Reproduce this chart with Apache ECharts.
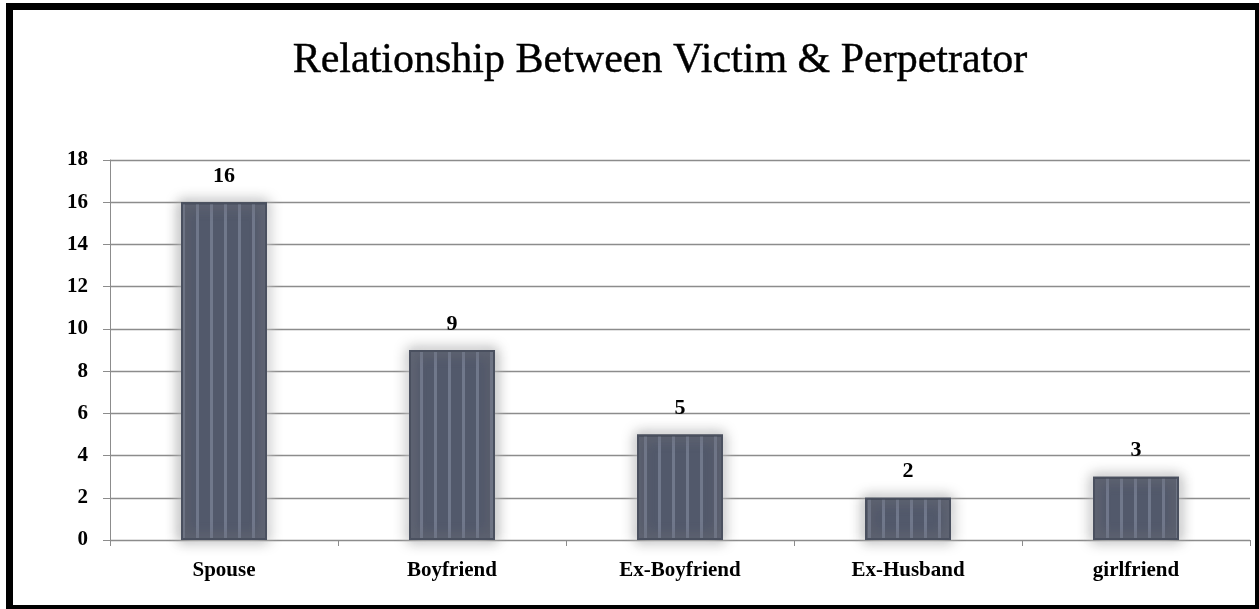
<!DOCTYPE html>
<html>
<head>
<meta charset="utf-8">
<title>Relationship Between Victim & Perpetrator</title>
<script src="https://cdn.jsdelivr.net/npm/echarts@6/dist/echarts.min.js"></script>
<style>
	html, body {
		margin: 0;
		padding: 0;
		background: #fff;
	}
	#chart-box {
		width: 1259px;
		height: 609px;
	}
</style>
</head>
<body>
<div id="chart-box"></div>
<script>
	var categories = ["Spouse", "Boyfriend", "Ex-Boyfriend", "Ex-Husband", "girlfriend"];
	var counts = [16, 9, 5, 2, 3];
	var yTicks = [0, 2, 4, 6, 8, 10, 12, 14, 16, 18];

	var serif = "'Liberation Serif', 'Times New Roman', serif";

	var chart = echarts.init(document.getElementById("chart-box"));

	var option = {
		animation: false,
		backgroundColor: "#fff",
		textStyle: {
			fontFamily: serif
		},
		title: {
			text: "Relationship Between Victim & Perpetrator",
			left: 655,
			textAlign: "center",
			top: 35,
			textStyle: {
				fontFamily: serif,
				fontSize: 42,
				fontWeight: "normal",
				color: "#000",
				textBorderColor: "#000",
				textBorderWidth: 0.4
			}
		},
		grid: {
			left: 110,
			right: 9,
			top: 160,
			bottom: 69
		},
		xAxis: {
			type: "category",
			data: categories,
			axisLine: {
				lineStyle: {
					color: "#8c8c8c",
					width: 1
				}
			},
			axisTick: {
				show: true,
				length: 6,
				lineStyle: {
					color: "#8c8c8c"
				}
			},
			axisLabel: {
				margin: 20,
				color: "#000",
				fontFamily: serif,
				fontSize: 21,
				fontWeight: "bold"
			}
		},
		yAxis: {
			type: "value",
			min: yTicks[0],
			max: yTicks[yTicks.length - 1],
			interval: yTicks[1] - yTicks[0],
			axisLine: {
				show: true,
				lineStyle: {
					color: "#8c8c8c",
					width: 1
				}
			},
			axisTick: {
				show: true,
				length: 7,
				lineStyle: {
					color: "#8c8c8c"
				}
			},
			splitLine: {
				lineStyle: {
					color: "#8c8c8c",
					width: 1.3
				}
			},
			axisLabel: {
				margin: 22,
				color: "#000",
				fontFamily: serif,
				fontSize: 21,
				fontWeight: "bold"
			}
		},
		series: [{
			name: "Count",
			type: "bar",
			data: counts,
			barWidth: 86,
			itemStyle: {
				color: "#596074",
				borderColor: "#4a505f",
				borderWidth: 2,
				shadowBlur: 14,
				shadowColor: "rgba(250,251,253,1)",
				decal: {
					symbol: "rect",
					symbolSize: 1,
					dashArrayX: [3, 10.5],
					dashArrayY: [10, 0],
					color: "rgba(170,178,200,0.35)"
				}
			},
			label: {
				show: true,
				position: "top",
				distance: 15,
				color: "#000",
				fontFamily: serif,
				fontSize: 22,
				fontWeight: "bold"
			}
		}],
		graphic: [{
			// black frame round the picture
			type: "rect",
			z: 100,
			shape: {
				x: 9.5,
				y: 6.5,
				width: 1249,
				height: 602
			},
			style: {
				fill: null,
				stroke: "#000",
				lineWidth: 7
			}
		}]
	};

	chart.setOption(option);
</script>
</body>
</html>
